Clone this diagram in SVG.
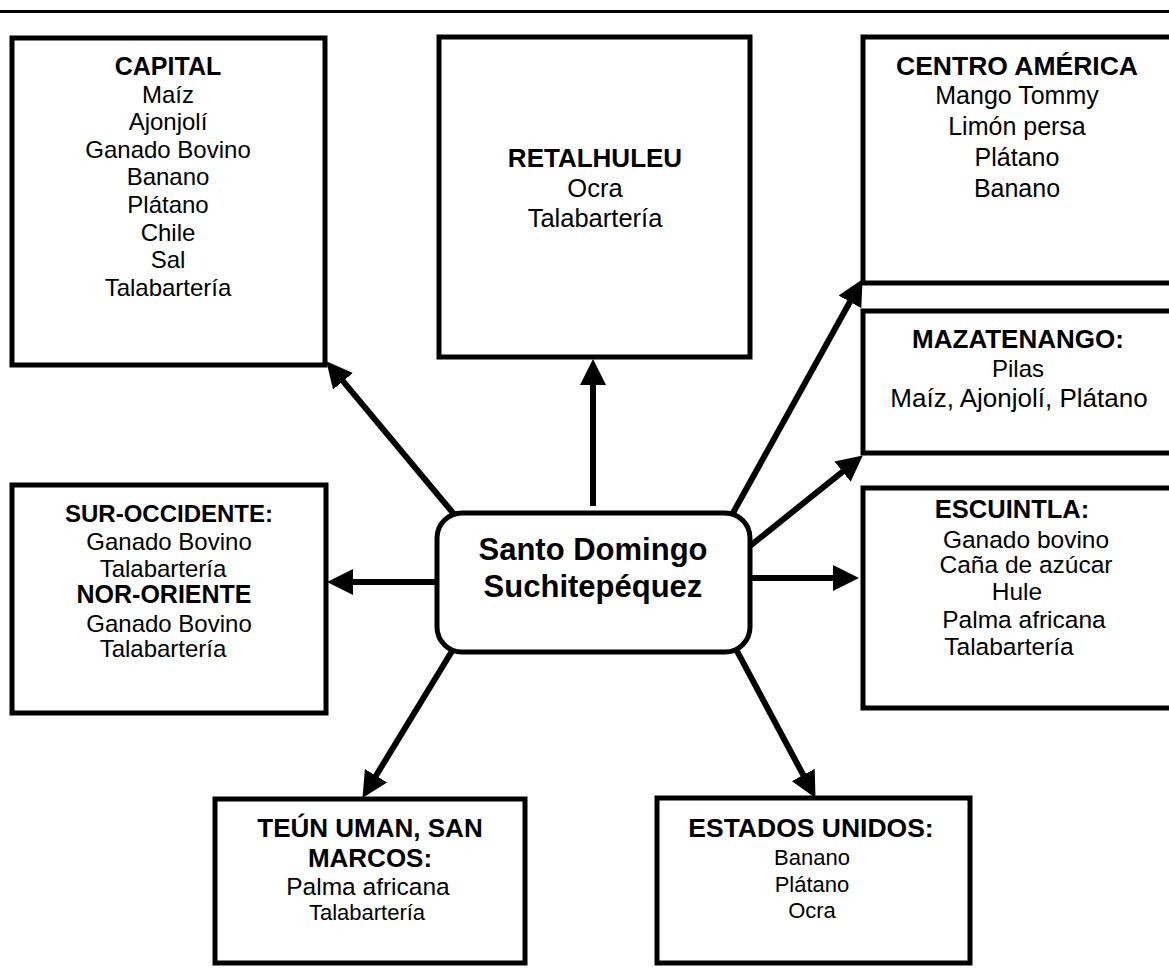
<svg xmlns="http://www.w3.org/2000/svg" width="1169" height="978" viewBox="0 0 1169 978">
  <defs>
    <marker id="arrow" markerUnits="userSpaceOnUse" markerWidth="26" markerHeight="26" viewBox="0 0 26 26" refX="15" refY="13" orient="auto">
      <path d="M0,0 L26,13 L0,26 z" fill="#000"/>
    </marker>
  </defs>
  <style>
    .box { fill: #fff; stroke: #000; stroke-width: 5; }
    .center { fill: #fff; stroke: #000; stroke-width: 5; }
    .conn { stroke: #000; stroke-width: 6; fill: none; marker-end: url(#arrow); }
    text { font-family: "Liberation Sans", Arial, sans-serif; text-anchor: middle; fill: #000; }
    .t { font-weight: bold; }
  </style>
  <rect width="1169" height="978" fill="#fff"/>
  <line x1="0" y1="11.5" x2="1169" y2="11.5" stroke="#000" stroke-width="3"/>

  <g id="connectors">
    <line class="conn" x1="458.1" y1="519.1" x2="333.4" y2="369.7"/>
    <line class="conn" x1="593" y1="506" x2="593" y2="370"/>
    <line class="conn" x1="729.1" y1="520" x2="857.2" y2="288.8"/>
    <line class="conn" x1="743.8" y1="551" x2="854.2" y2="462.3"/>
    <line class="conn" x1="746" y1="578" x2="848" y2="578"/>
    <line class="conn" x1="441" y1="582" x2="338" y2="582"/>
    <line class="conn" x1="456.2" y1="644.2" x2="368.2" y2="788.5"/>
    <line class="conn" x1="733.2" y1="643.9" x2="810.3" y2="788.2"/>
  </g>

  <g id="node-center">
    <rect class="center" x="437" y="513" width="313" height="139" rx="25" ry="25"/>
    <text class="t" x="593" y="560" font-size="31">Santo Domingo</text>
    <text class="t" x="593" y="597" font-size="31">Suchitepéquez</text>
  </g>

  <g id="node-capital">
    <rect class="box" x="12" y="38" width="313" height="327"/>
    <text class="t" x="168" y="75" font-size="25">CAPITAL</text>
    <text x="168" y="102.6" font-size="24">Maíz</text>
    <text x="168" y="130.2" font-size="24">Ajonjolí</text>
    <text x="168" y="157.8" font-size="24">Ganado Bovino</text>
    <text x="168" y="185.4" font-size="24">Banano</text>
    <text x="168" y="213" font-size="24">Plátano</text>
    <text x="168" y="240.6" font-size="24">Chile</text>
    <text x="168" y="268.2" font-size="24">Sal</text>
    <text x="168" y="295.8" font-size="24">Talabartería</text>
  </g>

  <g id="node-retalhuleu">
    <rect class="box" x="439" y="37" width="311" height="320"/>
    <text class="t" x="595" y="167" font-size="26">RETALHULEU</text>
    <text x="595" y="197" font-size="25.5">Ocra</text>
    <text x="595" y="227" font-size="25.5">Talabartería</text>
  </g>

  <g id="node-centroamerica">
    <rect class="box" x="863" y="37" width="320" height="246"/>
    <text class="t" x="1017" y="75" font-size="26.5">CENTRO AMÉRICA</text>
    <text x="1017" y="104" font-size="25">Mango Tommy</text>
    <text x="1017" y="135" font-size="25">Limón persa</text>
    <text x="1017" y="166" font-size="25">Plátano</text>
    <text x="1017" y="197" font-size="25">Banano</text>
  </g>

  <g id="node-mazatenango">
    <rect class="box" x="863" y="311" width="320" height="142"/>
    <text class="t" x="1018" y="348" font-size="26">MAZATENANGO:</text>
    <text x="1018" y="377" font-size="24">Pilas</text>
    <text x="1019" y="407" font-size="26">Maíz, Ajonjolí, Plátano</text>
  </g>

  <g id="node-escuintla">
    <rect class="box" x="863" y="488" width="320" height="220"/>
    <text class="t" x="1012" y="518" font-size="25.5">ESCUINTLA:</text>
    <text x="1026" y="548" font-size="24.5">Ganado bovino</text>
    <text x="1026" y="573" font-size="24.5">Caña de azúcar</text>
    <text x="1017" y="600" font-size="24.5">Hule</text>
    <text x="1024" y="628" font-size="24.5">Palma africana</text>
    <text x="1009" y="655" font-size="24.5">Talabartería</text>
  </g>

  <g id="node-suroccidente">
    <rect class="box" x="12" y="485" width="314" height="228"/>
    <text class="t" x="169" y="522" font-size="24">SUR-OCCIDENTE:</text>
    <text x="169" y="550" font-size="24">Ganado Bovino</text>
    <text x="163" y="577" font-size="24">Talabartería</text>
    <text class="t" x="164" y="603" font-size="25">NOR-ORIENTE</text>
    <text x="169" y="632" font-size="24">Ganado Bovino</text>
    <text x="163" y="657" font-size="24">Talabartería</text>
  </g>

  <g id="node-teunuman">
    <rect class="box" x="215" y="799" width="310" height="164"/>
    <text class="t" x="370" y="837" font-size="26">TEÚN UMAN, SAN</text>
    <text class="t" x="370" y="867" font-size="26">MARCOS:</text>
    <text x="368" y="895" font-size="24.5">Palma africana</text>
    <text x="367" y="920" font-size="22">Talabartería</text>
  </g>

  <g id="node-estadosunidos">
    <rect class="box" x="657" y="798" width="313" height="165"/>
    <text class="t" x="811" y="837" font-size="26.5">ESTADOS UNIDOS:</text>
    <text x="812" y="865" font-size="22">Banano</text>
    <text x="812" y="892" font-size="22">Plátano</text>
    <text x="812" y="918" font-size="22">Ocra</text>
  </g>
</svg>
